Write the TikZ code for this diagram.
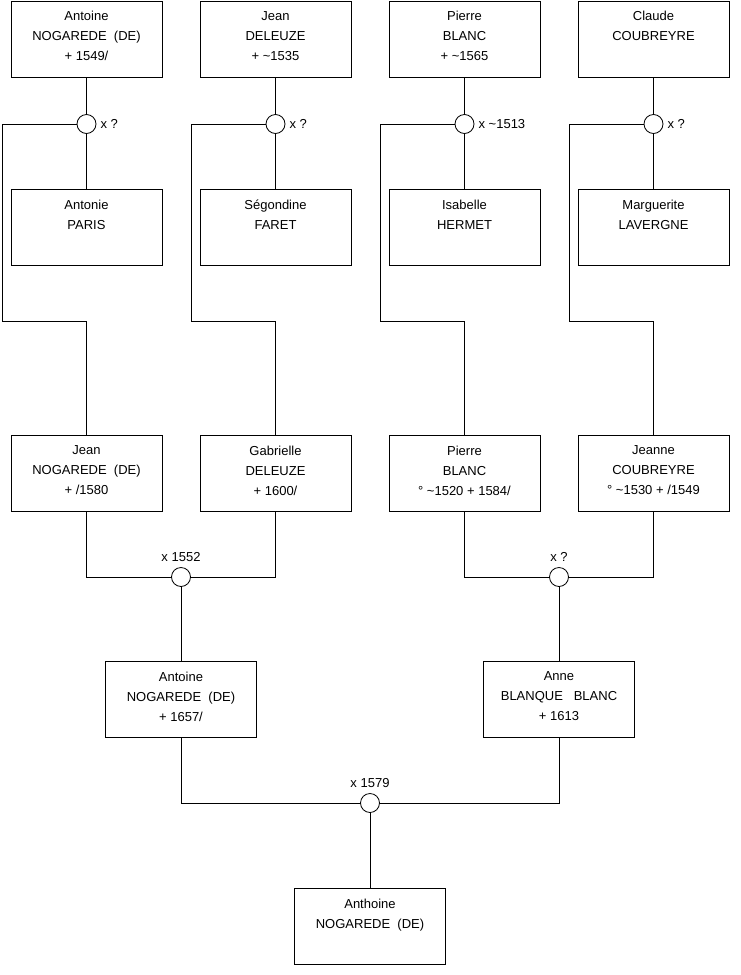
\documentclass[tikz,border=0pt]{standalone}
\usepackage{fontspec}
\setmainfont{Liberation Sans}
\usepackage{tikz}
\usetikzlibrary{positioning}

\begin{document}
\begin{tikzpicture}[
  x=1pt, y=-1pt,
  font=\fontsize{13}{20}\selectfont,
  person/.style={draw, line width=0.8pt, align=center, anchor=north,
    minimum width=151pt, minimum height=76pt, inner sep=0pt,
    execute at end node={\rule[-6pt]{0pt}{0pt}}},
  union/.style={draw, circle, line width=0.8pt, fill=white,
    minimum size=19pt, inner sep=0pt},
  wedding/.style={inner sep=0pt},
  link/.style={line width=0.8pt},
]
  \useasboundingbox (0,0) rectangle (740,975);

  % great-grandparents
  \node[person] (a1) at (86.5, 0.5) {Antoine\\NOGAREDE\ \ (DE)\\+ 1549/};
  \node[person] (a2) at (275.5, 0.5) {Jean\\DELEUZE\\+ \textasciitilde1535};
  \node[person] (a3) at (464.5, 0.5) {Pierre\\BLANC\\+ \textasciitilde1565};
  \node[person] (a4) at (653.5, 0.5) {Claude\\COUBREYRE\\\mbox{}};

  \node[union] (m1) at (86.5, 124) {};
  \node[union] (m2) at (275.5, 124) {};
  \node[union] (m3) at (464.5, 124) {};
  \node[union] (m4) at (653.5, 124) {};

  \node[wedding, right=4pt of m1] {x ?};
  \node[wedding, right=4pt of m2] {x ?};
  \node[wedding, right=4pt of m3] {x \textasciitilde1513};
  \node[wedding, right=4pt of m4] {x ?};

  \node[person] (s1) at (86.5, 189) {Antonie\\PARIS\\\mbox{}};
  \node[person] (s2) at (275.5, 189) {Ségondine\\FARET\\\mbox{}};
  \node[person] (s3) at (464.5, 189) {Isabelle\\HERMET\\\mbox{}};
  \node[person] (s4) at (653.5, 189) {Marguerite\\LAVERGNE\\\mbox{}};

  % grandparents
  \node[person] (j1) at (86.5, 435) {Jean\\NOGAREDE\ \ (DE)\\+ /1580};
  \node[person] (j2) at (275.5, 435) {Gabrielle\\DELEUZE\\+ 1600/};
  \node[person] (j3) at (464.5, 435) {Pierre\\BLANC\\° \textasciitilde1520 + 1584/};
  \node[person] (j4) at (653.5, 435) {Jeanne\\COUBREYRE\\° \textasciitilde1530 + /1549};

  \coordinate (k1) at (2, 321);
  \coordinate (k2) at (191, 321);
  \coordinate (k3) at (380, 321);
  \coordinate (k4) at (569, 321);

  \node[union] (m5) at (181, 577) {};
  \node[union] (m6) at (559, 577) {};
  \node[wedding, above=5pt of m5] {x 1552};
  \node[wedding, above=5pt of m6] {x ?};

  % parents
  \node[person] (p1) at (181, 661) {Antoine\\NOGAREDE\ \ (DE)\\+ 1657/};
  \node[person] (p2) at (559, 661) {Anne\\BLANQUE\ \ \ BLANC\\+ 1613};

  \node[union] (m7) at (370, 803) {};
  \node[wedding, above=5pt of m7] {x 1579};

  \node[person] (b1) at (370, 888) {Anthoine\\NOGAREDE\ \ (DE)\\\mbox{}};

  % links
  \draw[link] (a1) -- (m1) -- (s1);
  \draw[link] (a2) -- (m2) -- (s2);
  \draw[link] (a3) -- (m3) -- (s3);
  \draw[link] (a4) -- (m4) -- (s4);

  \draw[link] (m1.west) -| (k1) -| (j1.north);
  \draw[link] (m2.west) -| (k2) -| (j2.north);
  \draw[link] (m3.west) -| (k3) -| (j3.north);
  \draw[link] (m4.west) -| (k4) -| (j4.north);

  \draw[link] (j1.south) |- (m5.west);
  \draw[link] (j2.south) |- (m5.east);
  \draw[link] (m5) -- (p1);
  \draw[link] (j3.south) |- (m6.west);
  \draw[link] (j4.south) |- (m6.east);
  \draw[link] (m6) -- (p2);

  \draw[link] (p1.south) |- (m7.west);
  \draw[link] (p2.south) |- (m7.east);
  \draw[link] (m7) -- (b1);
\end{tikzpicture}
\end{document}
